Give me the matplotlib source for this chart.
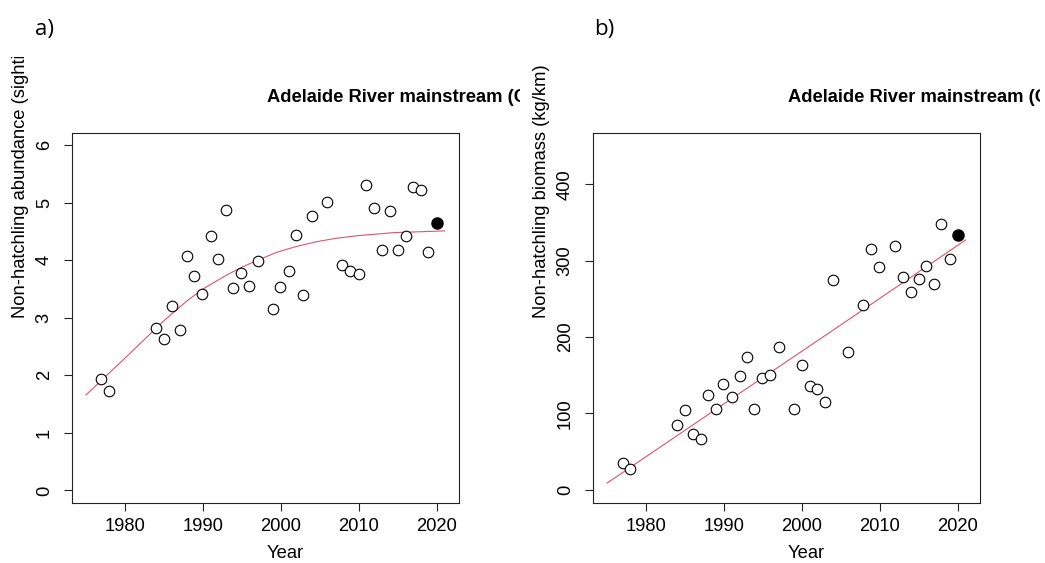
import matplotlib
matplotlib.use("Agg")
import matplotlib.pyplot as plt
from matplotlib.transforms import Bbox

plt.rcParams['font.family'] = ['Liberation Sans', 'DejaVu Sans']

W, H = 1045, 563

# panel a) non-hatchling abundance
abund_years = [1976.9, 1977.9, 1984.0, 1985.0, 1986.0, 1987.0, 1987.9, 1988.9, 1989.9,
               1991.0, 1991.9, 1992.9, 1993.9, 1994.9, 1995.9, 1997.0, 1999.0, 1999.9,
               2001.0, 2001.9, 2002.9, 2004.0, 2005.9, 2007.9, 2008.9, 2010.0, 2010.9,
               2012.0, 2013.0, 2014.0, 2015.0, 2016.0, 2016.9, 2018.0, 2018.9]
abund = [1.94, 1.73, 2.83, 2.64, 3.21, 2.78, 4.08, 3.72, 3.41,
         4.43, 4.02, 4.88, 3.52, 3.78, 3.56, 3.99, 3.15, 3.53,
         3.82, 4.44, 3.39, 4.77, 5.02, 3.91, 3.82, 3.76, 5.30,
         4.91, 4.18, 4.85, 4.18, 4.43, 5.27, 5.22, 4.15]
abund_last_year = 2020.0
abund_last = 4.65
abund_fit_years = [1975, 1980, 1985, 1988, 1990, 1993, 1995, 1997, 1999.5, 2002,
                   2004.5, 2007, 2010, 2014.5, 2021]
abund_fit = [1.66, 2.30, 2.95, 3.30, 3.50, 3.74, 3.88, 4.00, 4.14, 4.24,
             4.32, 4.38, 4.43, 4.48, 4.51]

# panel b) non-hatchling biomass
bio_years = [1977.0, 1977.9, 1984.0, 1985.0, 1986.0, 1987.0, 1988.0, 1989.0, 1989.9,
             1991.0, 1992.0, 1992.9, 1993.9, 1994.9, 1995.9, 1997.0, 1999.0, 2000.0,
             2001.0, 2002.0, 2003.0, 2004.0, 2005.9, 2007.9, 2008.9, 2009.9, 2012.0,
             2013.0, 2014.0, 2015.0, 2015.9, 2016.9, 2017.9, 2019.0]
biomass = [34.9, 26.6, 84.2, 104.3, 72.9, 67.1, 124.7, 106.4, 138.7,
           121.7, 149.2, 173.2, 106.4, 147.0, 150.1, 186.3, 105.6, 164.0,
           136.1, 132.6, 115.6, 274.5, 180.6, 242.5, 315.4, 292.3, 318.5,
           278.4, 258.8, 275.3, 293.2, 269.2, 348.2, 302.0]
bio_last_year = 2020.0
bio_last = 332.9
bio_fit_years = [1975, 1990, 2004, 2021]
bio_fit = [8.8, 112.5, 209.0, 327.0]

x_ticks = [1980, 1990, 2000, 2010, 2020]
abund_ticks = [0, 1, 2, 3, 4, 5, 6]
bio_ticks = [0, 100, 200, 300, 400]

title = "Adelaide River mainstream (Calculated)"
FS = 13.2
RED = "#DF536B"


def fx(px):
    return px / W


def fy(py):
    return 1 - py / H


def draw_panel(fig, left, ylim, yticks, years, vals, last_year, last_val,
               fit_years, fit_vals, ylabel, letter, letter_x, clip):
    right, top, bottom = left + 387, 132.5, 502.5
    ax = fig.add_axes([fx(left), fy(bottom), fx(right - left), (bottom - top) / H])
    ax.plot(fit_years, fit_vals, color=RED, lw=0.8, zorder=2)
    ax.plot(years, vals, 'o', mfc='white', mec='black', ms=7.6, mew=0.8, zorder=3)
    ax.plot([last_year], [last_val], 'o', color='black', ms=8.0, zorder=3)
    ax.set_xlim(1973.2, 2022.85)
    ax.set_ylim(*ylim)
    ax.set_xticks(x_ticks)
    ax.set_yticks(yticks)
    ax.tick_params(direction='out', length=5.8, width=0.8, labelsize=FS, color='#222222')
    ax.tick_params(axis='x', pad=5.2)
    ax.tick_params(axis='y', pad=8.0, labelrotation=90)
    for lab in ax.get_yticklabels():
        lab.set_va('center')
    for s in ax.spines.values():
        s.set_linewidth(0.8)
        s.set_color('#222222')

    cx = (left + right) / 2 + 19.5
    fig.text(fx(cx), fy(553), "Year", ha='center', va='center', fontsize=FS)

    # the source panels were cropped, so title and y label are cut at the crop edge
    box = Bbox.from_extents(clip[0], 0, clip[1], H - 57)
    t = fig.text(fx(left + 194.7), fy(102), title, ha='left', va='baseline',
                 fontsize=FS, fontweight='bold')
    t.set_clip_box(box)
    t.set_clip_on(True)
    yl = fig.text(fx(left - 51), fy(318), ylabel, rotation=90, ha='center',
                  va='bottom', fontsize=FS)
    yl.set_clip_box(box)
    yl.set_clip_on(True)

    fig.text(fx(letter_x), fy(34.5), letter, ha='left', va='baseline',
             fontsize=16, family='Open Sans')
    return ax


fig = plt.figure(figsize=(W / 100, H / 100), dpi=100)
draw_panel(fig, 72, (-0.21, 6.22), abund_ticks, abund_years, abund,
           abund_last_year, abund_last, abund_fit_years, abund_fit,
           "Non-hatchling abundance (sightings/km)", "a)", 35, (0, 519.5))
draw_panel(fig, 593, (-16.6, 467.7), bio_ticks, bio_years, biomass,
           bio_last_year, bio_last, bio_fit_years, bio_fit,
           "Non-hatchling biomass (kg/km)", "b)", 594, (520, 1039.5))

fig.savefig("out.png", dpi=100)
